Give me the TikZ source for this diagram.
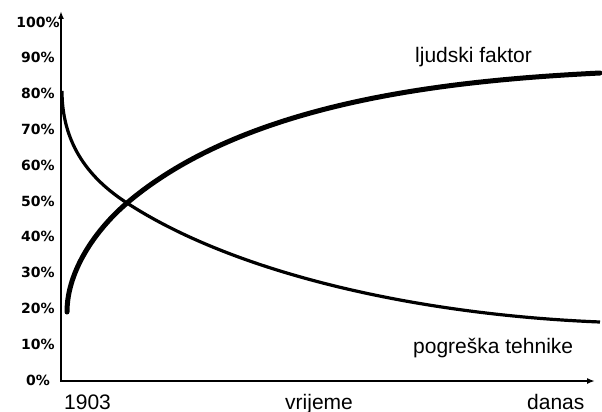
\documentclass[tikz,border=0pt]{standalone}
\usepackage{fontspec}
\setmainfont{Liberation Sans}
\newfontfamily\tickfont{DejaVu Sans}
\usetikzlibrary{arrows.meta}
\begin{document}
\begin{tikzpicture}[
  x=1pt, y=-1pt,
  axis/.style={
    line width=2.4pt,
    {Latex[length=8pt,width=6pt]}-{Latex[length=8pt,width=6pt]}
  },
  humancurve/.style={line width=5pt, line cap=round},
  techcurve/.style={line width=3.2pt},
  ticklabel/.style={font=\tickfont\bfseries\fontsize{14}{15}\selectfont, inner sep=0pt},
  curvelabel/.style={font=\fontsize{21}{24}\selectfont, inner sep=0pt, anchor=base west}
]
\useasboundingbox (0,0) rectangle (602,412);
\coordinate (ytop)   at (61,11);
\coordinate (origin) at (61,381);
\coordinate (xend)   at (595,381);
\coordinate (cross)  at (127,203);
\draw[axis] (ytop) -- (origin) -- (xend);
% percent scale
\foreach \p in {0,10,...,100}
  \node[ticklabel] (tick\p) at (38,{380-3.58*\p}) {\p\%};
% curves
\draw[techcurve] (62,91) .. controls (62,151) and (97,183.5) .. (cross)
  .. controls (237,274.5) and (420,314.8) .. (600,322);
\draw[humancurve] (67,312) .. controls (67,270) and (97,228.5) .. (cross)
  .. controls (247,101) and (450,80.5) .. (600,73);
% labels
\node[curvelabel] (human) at (415,63)  {ljudski faktor};
\node[curvelabel] (tech)  at (413,353) {pogreška tehnike};
\node[curvelabel] (start) at (64,409)  {1903};
\node[curvelabel] (time)  at (285,409) {vrijeme};
\node[curvelabel] (now)   at (527,409) {danas};
\end{tikzpicture}
\end{document}
